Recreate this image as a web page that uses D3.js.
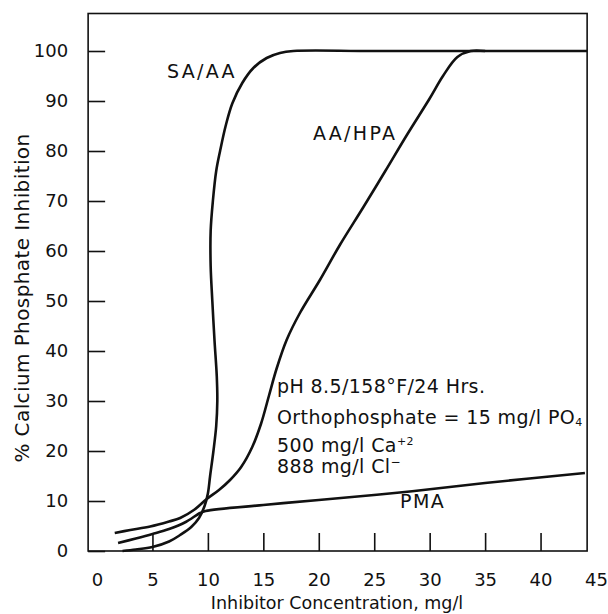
<!DOCTYPE html>
<html>
<head>
<meta charset="utf-8">
<script src="https://cdn.jsdelivr.net/npm/d3@7"></script>
<style>
  body { margin: 0; background: #fff; }
  svg text { font-family: "DejaVu Sans", "Liberation Sans", sans-serif; fill: #111; }
</style>
</head>
<body>
<div id="chart"></div>
<script>
// Curve points (x = mg/l, y = % inhibition)
const saaaX = [2.3, 3.5, 5, 6.5, 7.5, 8.5, 9.2, 9.7, 10, 10.2, 10.5, 10.75, 10.85, 10.8, 10.6, 10.4, 10.25, 10.25, 10.45, 10.75, 11.1, 11.6, 12.2, 13.1, 14.1, 15.3, 16.5, 17.7, 25, 44.2];
const saaaY = [0, 0.3, 0.8, 1.9, 3.2, 4.8, 6.6, 9, 11.5, 15, 20, 25, 30, 35, 42, 50, 57, 64, 70, 76, 80, 85, 89.5, 93.6, 96.6, 98.6, 99.6, 100, 100, 100];

const aahpaX = [1.6, 3, 4.8, 6.5, 7.5, 8.8, 9.9, 11, 12, 13, 14, 14.8, 15.5, 16.2, 17.1, 18.3, 20.1, 21.9, 24, 26, 28, 30, 31.2, 32.5, 33.7, 35];
const aahpaY = [3.6, 4.2, 4.9, 5.9, 6.6, 8.3, 10.4, 12.2, 14.2, 16.8, 20.8, 25.5, 31, 36.5, 42.2, 47.6, 54.2, 61.2, 68.7, 76, 83.4, 90.5, 95, 98.8, 100, 100];

const pmaX = [1.9, 3.5, 5, 6.5, 8, 9.3, 9.8, 15, 20, 27.3, 35, 44];
const pmaY = [1.6, 2.5, 3.4, 4.4, 5.8, 7.6, 8, 9.2, 10.2, 11.7, 13.6, 15.6];

const xTicks = [0, 5, 10, 15, 20, 25, 30, 35, 40, 45];
const yTicks = [0, 10, 20, 30, 40, 50, 60, 70, 80, 90, 100];

const width = 608, height = 614;

const svg = d3.select('#chart').append('svg')
  .attr('width', width)
  .attr('height', height);

const x = d3.scaleLinear().domain([0, 45]).range([97, 596]);
const y = d3.scaleLinear().domain([0, 100]).range([551, 51]);

// frame box (the scan's box starts a little left of x = 0)
const fx0 = x(-0.8), fx1 = x(44.2), fy0 = y(107.5), fy1 = y(0);
svg.append('rect')
  .attr('x', fx0).attr('y', fy0)
  .attr('width', fx1 - fx0).attr('height', fy1 - fy0)
  .attr('fill', 'none').attr('stroke', '#111').attr('stroke-width', 1.6);

// y axis, ticks pointing inward
const yAxis = svg.append('g')
  .attr('transform', `translate(${fx0},0)`)
  .call(d3.axisLeft(y).tickValues(yTicks).tickSize(-17).tickPadding(20));
yAxis.select('.domain').remove();
yAxis.selectAll('line').attr('stroke', '#111').attr('stroke-width', 1.6);
yAxis.selectAll('text').attr('font-size', 18).attr('font-family', '"DejaVu Sans", sans-serif');

// x axis, ticks pointing up
const xAxis = svg.append('g')
  .attr('transform', `translate(0,${fy1})`)
  .call(d3.axisBottom(x).tickValues(xTicks).tickSize(-18).tickPadding(22));
xAxis.select('.domain').remove();
xAxis.selectAll('.tick').filter(d => d === 0 || d === 45).select('line').remove();
xAxis.selectAll('line').attr('stroke', '#111').attr('stroke-width', 1.6);
xAxis.selectAll('text').attr('font-size', 18).attr('font-family', '"DejaVu Sans", sans-serif');

// axis titles
svg.append('text')
  .text('Inhibitor Concentration, mg/l')
  .attr('x', 337).attr('y', 609)
  .attr('text-anchor', 'middle')
  .attr('font-size', 17.5);

svg.append('text')
  .text('% Calcium Phosphate Inhibition')
  .attr('transform', 'translate(29,298) rotate(-90)')
  .attr('text-anchor', 'middle')
  .attr('font-size', 20)
  .attr('letter-spacing', 0.4);

// curves
const line = d3.line()
  .x(d => x(d[0]))
  .y(d => y(d[1]))
  .curve(d3.curveCatmullRom.alpha(0.5));

const series = [
  { name: 'SA/AA', xs: saaaX, ys: saaaY },
  { name: 'AA/HPA', xs: aahpaX, ys: aahpaY },
  { name: 'PMA', xs: pmaX, ys: pmaY }
];

svg.selectAll('path.curve')
  .data(series)
  .join('path')
  .attr('class', 'curve')
  .attr('d', s => line(s.xs.map((v, i) => [v, s.ys[i]])))
  .attr('fill', 'none')
  .attr('stroke', '#111')
  .attr('stroke-width', 2.6)
  .attr('stroke-linejoin', 'round');

// curve labels
const lab = svg.append('g').attr('font-size', 19).attr('letter-spacing', 2.3);
lab.append('text').text('SA/AA').attr('x', 167).attr('y', 78);
lab.append('text').text('AA/HPA').attr('x', 313).attr('y', 140);
lab.append('text').text('PMA').attr('x', 400).attr('y', 508).attr('letter-spacing', 1.5);

// test conditions note
const note = svg.append('g').attr('font-size', 19).attr('letter-spacing', 0.4);
note.append('text').text('pH 8.5/158°F/24 Hrs.').attr('x', 277).attr('y', 393);
const t2 = note.append('text').attr('x', 277).attr('y', 424);
t2.append('tspan').text('Orthophosphate = 15 mg/l PO');
t2.append('tspan').text('4').attr('font-size', 11).attr('dy', 2);
const t3 = note.append('text').attr('x', 277).attr('y', 452);
t3.append('tspan').text('500 mg/l Ca');
t3.append('tspan').text('+2').attr('font-size', 11).attr('dy', -7);
const t4 = note.append('text').attr('x', 277).attr('y', 473);
t4.append('tspan').text('888 mg/l Cl');
t4.append('tspan').text('−').attr('font-size', 12).attr('dy', -7);
</script>
</body>
</html>
